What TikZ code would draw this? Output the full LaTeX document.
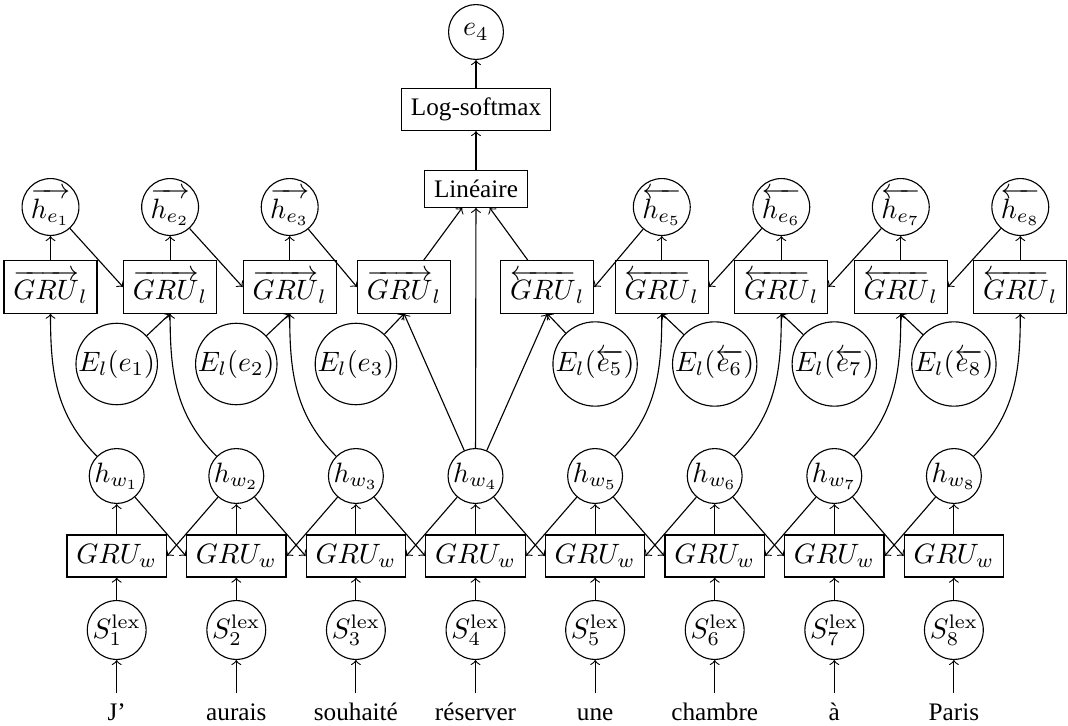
\documentclass[tikz,border=0pt]{standalone}
\usepackage[no-math]{fontspec}
\setmainfont{Liberation Serif}
\usepackage{amsmath}
\usetikzlibrary{positioning}

\tikzset{
  neuron/.style={circle,draw,inner sep=0pt,minimum size=19.6pt},
  cell/.style={rectangle,draw},
  mot/.style={font=\fontsize{9}{11}\selectfont,text height=6pt,text depth=1.5pt},
}

\begin{document}
\begin{tikzpicture}[x=0.357pt,y=-0.357pt]
  \useasboundingbox (0,0) rectangle (1068,726);

  % niveau des mots
  \foreach \i/\w in {1/J’,2/aurais,3/souhaité,4/réserver,5/une,6/chambre,7/à,8/Paris}{
    \pgfmathsetmacro{\x}{116.7+119.6*(\i-1)}
    \node[mot,anchor=base] (w\i) at (\x,720) {\w};
    \node[neuron,minimum size=21pt] (s\i) at (\x,630) {$S^{\mathrm{lex}}_{\i}$};
    \node[cell] (gw\i) at (\x,556) {$GRU_w$};
    \node[neuron] (hw\i) at (\x,476) {$h_{w_{\i}}$};
    \draw[->] (w\i) -- (s\i);
    \draw[->] (s\i) -- (gw\i);
    \draw[->] (gw\i) -- (hw\i);
  }
  \foreach \i [evaluate=\i as \j using int(\i+1)] in {1,...,7}{
    \draw[->] (hw\i) -- (gw\j.west);
    \draw[->] (hw\j) -- (gw\i.east);
  }

  % niveau des entites
  \foreach \i/\x in {1/50.5,2/170.1,3/289.7,4/404}
    \node[cell] (fl\i) at (\x,287) {$\overrightarrow{GRU}_l$};
  \foreach \i/\x in {4/547.3,5/661.8,6/781.3,7/900.8,8/1020.3}
    \node[cell] (bl\i) at (\x,287) {$\overleftarrow{GRU}_l$};
  \foreach \i/\x in {1/50.5,2/170.1,3/289.7}
    \node[neuron,minimum size=20.3pt] (he\i) at (\x,207) {$\overrightarrow{h_{e_{\i}}}$};
  \foreach \i/\x in {5/661.8,6/781.3,7/900.8,8/1020.3}
    \node[neuron,minimum size=20.3pt] (he\i) at (\x,207) {$\overleftarrow{h_{e_{\i}}}$};
  \foreach \i in {1,2,3}{
    \pgfmathsetmacro{\x}{116.7+119.6*(\i-1)}
    \node[neuron] (el\i) at (\x,364) {$E_l(e_{\i})$};
  }
  \foreach \i in {5,...,8}{
    \pgfmathsetmacro{\x}{116.7+119.6*(\i-1)}
    \node[neuron] (el\i) at (\x,364) {$E_l(\overleftarrow{e_{\i}})$};
  }

  \node[cell,font=\fontsize{9}{11}\selectfont] (lin) at (476,189) {Linéaire};
  \node[cell,font=\fontsize{9}{11}\selectfont,above=14pt of lin] (lsm) {Log-softmax};
  \node[neuron,above=10pt of lsm] (e4) {$e_4$};

  \foreach \i [evaluate=\i as \j using int(\i+1)] in {1,2,3}{
    \draw[->] (fl\i) -- (he\i);
    \draw[->] (he\i) -- (fl\j.west);
    \draw[->] (el\i) -- (fl\j.south);
    \draw[->] (hw\i) to[out=135,in=-90] (fl\i.south);
  }
  \foreach \i [evaluate=\i as \j using int(\i-1)] in {5,...,8}{
    \draw[->] (bl\i) -- (he\i);
    \draw[->] (he\i) -- (bl\j.east);
    \draw[->] (el\i) -- (bl\j.south);
    \draw[->] (hw\i) to[out=45,in=-90] (bl\i.south);
  }
  \draw[->] (hw4) -- (fl4.south);
  \draw[->] (hw4) -- (bl4.south);
  \draw[->] (hw4) -- (lin);
  \draw[->] (fl4) -- (lin);
  \draw[->] (bl4) -- (lin);
  \draw[->] (lin) -- (lsm);
  \draw[->] (lsm) -- (e4);
\end{tikzpicture}
\end{document}
